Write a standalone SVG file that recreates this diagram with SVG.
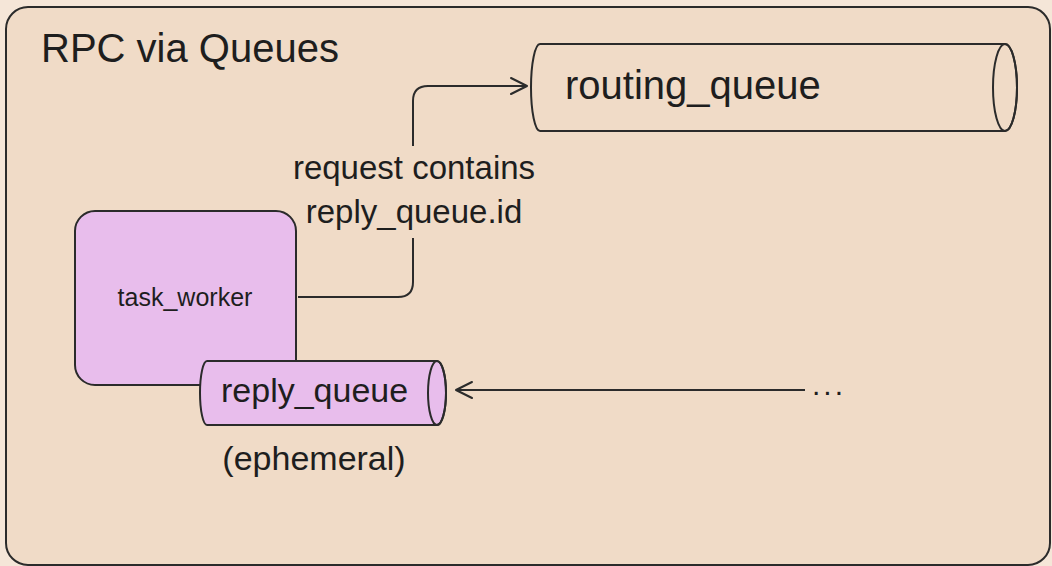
<svg xmlns="http://www.w3.org/2000/svg" width="1052" height="566" viewBox="0 0 1052 566">
<defs>
<marker id="arr" viewBox="0 0 20 20" refX="18" refY="10" markerWidth="20" markerHeight="20" markerUnits="userSpaceOnUse" orient="auto">
<path d="M2 2 L18 10 L2 18" fill="none" stroke="#2b2b2b" stroke-width="2" stroke-linecap="round" stroke-linejoin="round"/>
</marker>
</defs>
<style>
text{font-family:"Liberation Sans",Arial,sans-serif;fill:#1e1e1e}
.edge{fill:none;stroke:#2b2b2b;stroke-width:2}
.node{stroke:#2b2b2b;stroke-width:2}
</style>
<rect x="0" y="0" width="1052" height="566" fill="#f5e6d8"/>
<g id="container">
<rect x="6" y="7" width="1044" height="558" rx="22" fill="#f0dbc7" stroke="#2b2b2b" stroke-width="2"/>
<text x="41" y="62" font-size="40">RPC via Queues</text>
</g>
<g id="connectors">
<path class="edge" d="M298 297 H398 Q413 297 413 282 V101 Q413 86 428 86 H527" marker-end="url(#arr)"/>
<path class="edge" d="M805 390 H456" marker-end="url(#arr)"/>
<rect x="288" y="146" width="252" height="92" fill="#f0dbc7"/>
<text x="414" y="179" font-size="33" text-anchor="middle">request contains</text>
<text x="414" y="223" font-size="33" text-anchor="middle">reply_queue.id</text>
<text x="829" y="395" font-size="30" text-anchor="middle" letter-spacing="3">...</text>
</g>
<g id="routing_queue">
<path class="node" d="M540 44 H1005 A12 43.5 0 0 1 1005 131 H540 A9 43.5 0 0 1 540 44 Z" fill="#f0dbc7"/>
<ellipse class="node" cx="1005" cy="87.5" rx="12" ry="43.5" fill="none"/>
<text x="565" y="99" font-size="40">routing_queue</text>
</g>
<g id="task_worker">
<rect class="node" x="75" y="211" width="221" height="174" rx="20" fill="#e8bdec"/>
<text x="185" y="306" font-size="25" text-anchor="middle">task_worker</text>
</g>
<g id="reply_queue">
<path class="node" d="M207 361 H437 A9 32 0 0 1 437 425 H207 A7 32 0 0 1 207 361 Z" fill="#e8bdec"/>
<ellipse class="node" cx="437" cy="393" rx="9" ry="32" fill="none"/>
<text x="221" y="402" font-size="34">reply_queue</text>
<text x="314" y="470" font-size="34" text-anchor="middle">(ephemeral)</text>
</g>
</svg>
